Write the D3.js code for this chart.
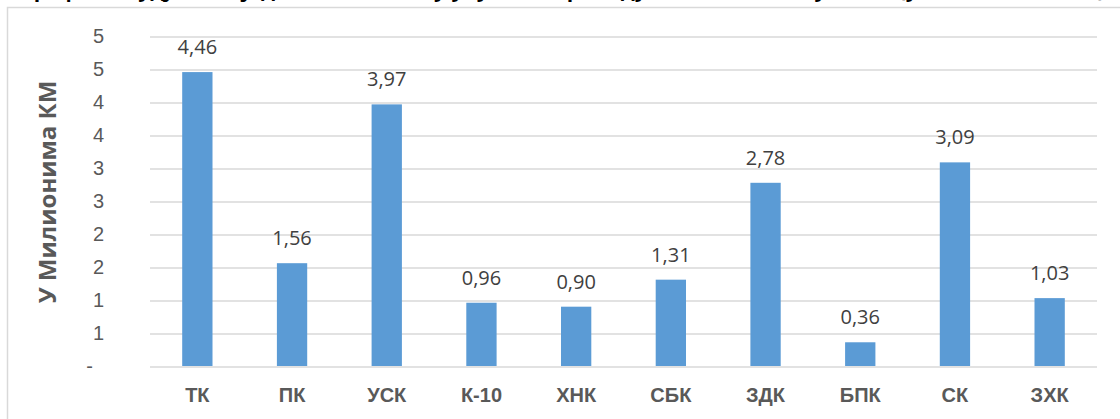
<!DOCTYPE html>
<html>
<head>
<meta charset="utf-8">
<script src="https://cdn.jsdelivr.net/npm/d3@7"></script>
<style>
  body { margin: 0; background: #fff; }
  svg { display: block; font-family: "Open Sans", "DejaVu Sans", sans-serif; }
</style>
</head>
<body>
<div id="chart"></div>
<script>
// chart data
const categories = ["ТК", "ПК", "УСК", "К-10", "ХНК", "СБК", "ЗДК", "БПК", "СК", "ЗХК"];
const values = [4.46, 1.56, 3.97, 0.96, 0.90, 1.31, 2.78, 0.36, 3.09, 1.03];
const yTicks = [0, 0.5, 1, 1.5, 2, 2.5, 3, 3.5, 4, 4.5, 5];
const yTickLabels = ["-", "1", "1", "2", "2", "3", "3", "4", "4", "5", "5"];
const titleText = "Графикон удјела појединих кантона у укупном приходу по кантонима у ФБиХ (у милионима КМ)";
const yTitle = "У Милионима КМ";

const W = 1120, H = 419;
let margin = {top: 36.5, right: 23, bottom: 53, left: 150},
    width = W - margin.left - margin.right,
    height = H - margin.top - margin.bottom;

let svg0 = d3.select("#chart").append("svg")
  .attr("width", W)
  .attr("height", H);

// chart area frame (only top/left visible in the crop)
svg0.append("rect")
  .attr("x", 7.5).attr("y", 7.5)
  .attr("width", W + 20).attr("height", H + 20)
  .attr("fill", "none")
  .attr("stroke", "#d9d9d9")
  .attr("stroke-width", 1.5);

// title, mostly cut off at the top
svg0.append("text")
  .attr("x", 22).attr("y", -3)
  .attr("textLength", 1083)
  .attr("lengthAdjust", "spacingAndGlyphs")
  .style("font-weight", "bold")
  .style("font-size", "19px")
  .style("fill", "#000")
  .text(titleText);

let svg = svg0.append("g")
  .attr("transform", "translate(" + margin.left + "," + margin.top + ")");

let xScale = d3.scaleBand()
  .domain(categories)
  .range([0, width])
  .paddingInner(0.68)
  .paddingOuter(0.34);

let yScale = d3.scaleLinear()
  .domain([0, 5])
  .range([height, 0]);

// gridlines
svg.append("g")
  .selectAll("line")
  .data(yTicks)
  .join("line")
  .attr("x1", 0).attr("x2", width)
  .attr("y1", d => Math.round(yScale(d)) + 0.5)
  .attr("y2", d => Math.round(yScale(d)) + 0.5)
  .attr("stroke", "#d9d9d9")
  .attr("stroke-width", 1.5);

// y axis labels
let yAxis = d3.axisLeft(yScale)
  .tickValues(yTicks)
  .tickSize(0)
  .tickPadding(46)
  .tickFormat((d, i) => yTickLabels[i]);

let gy = svg.append("g").call(yAxis);
gy.select(".domain").remove();
gy.selectAll("text")
  .style("font-size", "20px")
  .style("fill", "#595959")
  .attr("dx", d => d === 0 ? -11 : 0);

// x axis labels
let xAxis = d3.axisBottom(xScale).tickSize(0).tickPadding(22);
let gx = svg.append("g")
  .attr("transform", "translate(0," + height + ")")
  .call(xAxis);
gx.select(".domain").remove();
gx.selectAll("text")
  .style("font-size", "20px")
  .style("font-weight", "bold")
  .style("fill", "#595959");

// bars
svg.append("g")
  .selectAll("rect")
  .data(values)
  .join("rect")
  .attr("x", (d, i) => xScale(categories[i]))
  .attr("y", d => yScale(d))
  .attr("width", xScale.bandwidth())
  .attr("height", d => height - yScale(d))
  .attr("fill", "#5b9bd5");

// value labels
svg.append("g")
  .selectAll("text")
  .data(values)
  .join("text")
  .attr("x", (d, i) => xScale(categories[i]) + xScale.bandwidth() / 2)
  .attr("y", d => yScale(d) - 18)
  .style("text-anchor", "middle")
  .style("font-size", "20px")
  .style("fill", "#404040")
  .text(d => d.toFixed(2).replace(".", ","));

// y axis title
svg0.append("text")
  .attr("transform", "translate(56," + 192 + ") rotate(-90)")
  .style("text-anchor", "middle")
  .style("font-weight", "bold")
  .style("font-size", "24px")
  .style("fill", "#595959")
  .text(yTitle);
</script>
</body>
</html>
